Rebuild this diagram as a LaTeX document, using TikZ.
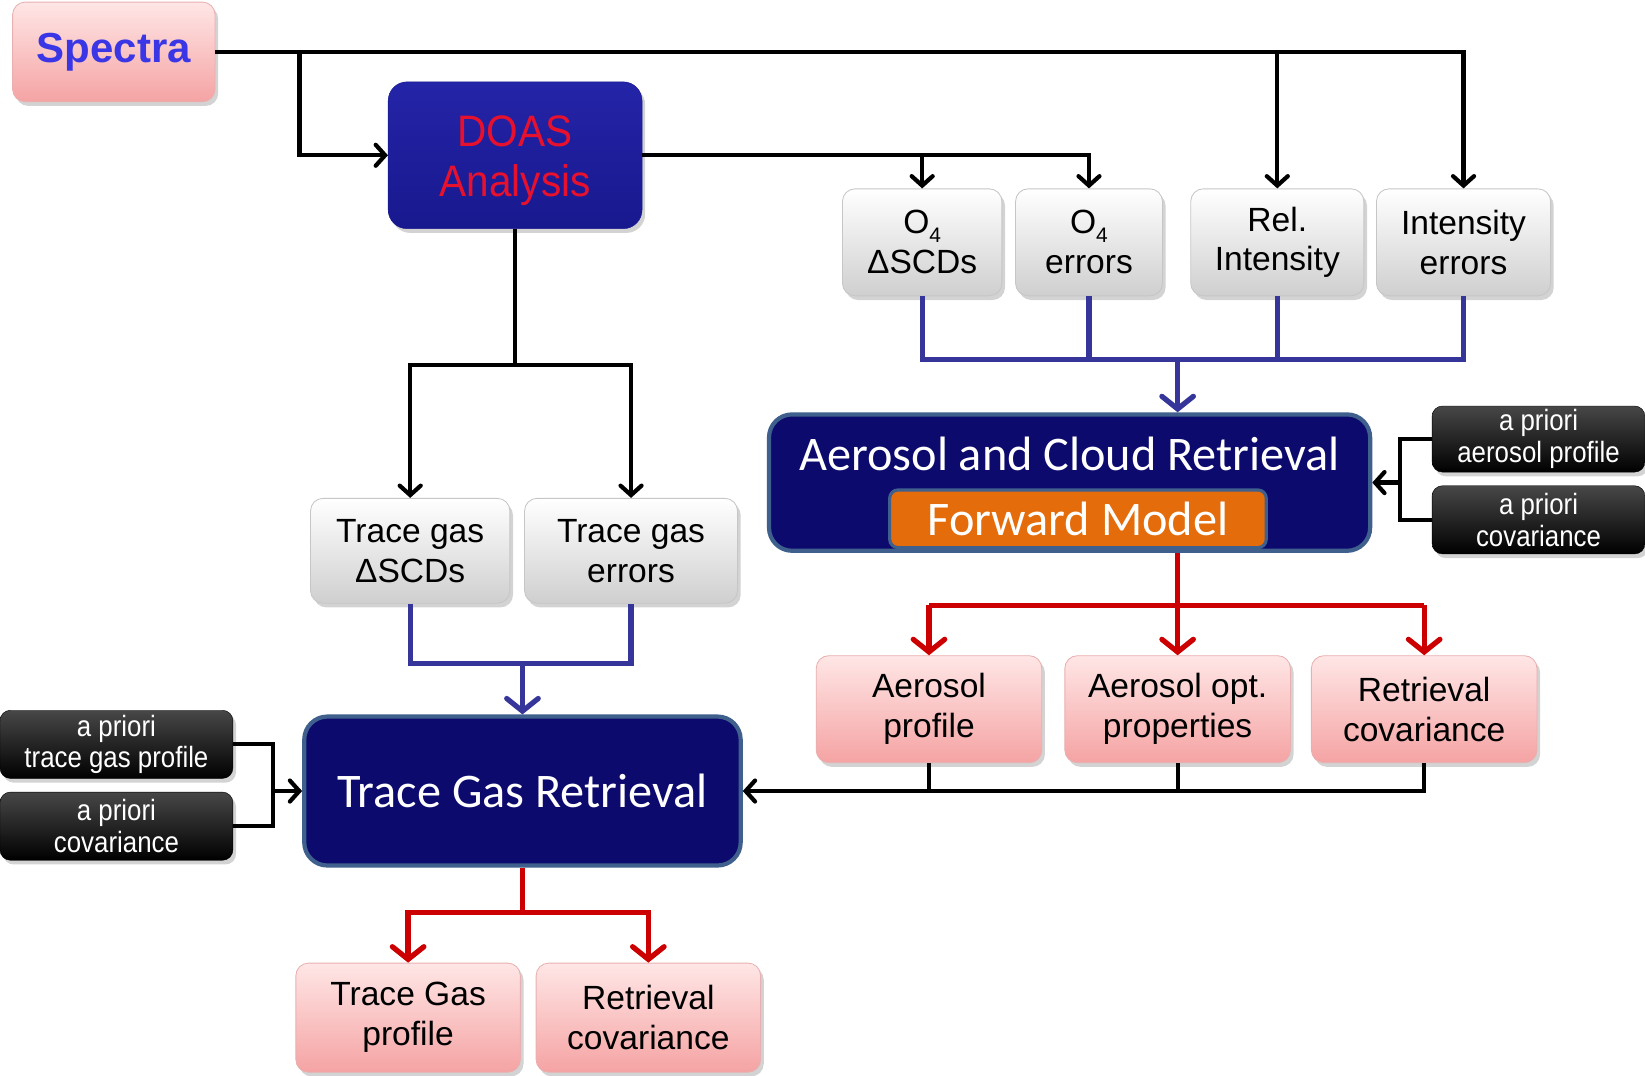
\documentclass[tikz,border=0pt]{standalone}
\usepackage{fontspec}
\setmainfont{Liberation Sans}
\newfontfamily\calfont{Carlito}
\newfontfamily\narrowfont[FakeStretch=0.88]{Liberation Sans}
\newfontfamily\condfont[FakeStretch=0.92]{Liberation Sans}
\usetikzlibrary{arrows.meta,shadows,calc}
\definecolor{navy}{HTML}{0D0A6E}
\definecolor{steel}{HTML}{3F5F8C}
\definecolor{doastop}{HTML}{2424A8}
\definecolor{doasbot}{HTML}{18188E}
\definecolor{doastext}{HTML}{E8112D}
\definecolor{spectext}{HTML}{3A36E6}
\definecolor{pinktop}{HTML}{FFE6E6}
\definecolor{pinkbot}{HTML}{F5A3A3}
\definecolor{pinkedge}{HTML}{E8B0B0}
\definecolor{graybot}{HTML}{CFCFCF}
\definecolor{bluecon}{HTML}{36369A}
\definecolor{redcon}{HTML}{CC0000}
\definecolor{fmorange}{HTML}{E46C0A}
\newcommand{\subfour}{\raisebox{-0.25em}{\fontsize{20}{20}\selectfont 4}}
\tikzset{
  sz/.style 2 args={minimum width=#1pt, minimum height=#2pt},
  shad/.style={drop shadow={opacity=0.35, shadow xshift=3pt, shadow yshift=-4pt}},
  basebox/.style={rounded corners=12pt, inner sep=0pt, align=center, shad},
  graybox/.style={basebox, draw=gray!45, line width=0.8pt, top color=white, bottom color=graybot,
    font=\fontsize{32}{38}\selectfont},
  pinkbox/.style={basebox, draw=pinkedge, line width=0.8pt, top color=pinktop, bottom color=pinkbot,
    font=\fontsize{32}{38}\selectfont},
  blackbox/.style={basebox, rounded corners=10pt, top color=black!72, bottom color=black, draw=black,
    text=white, font=\narrowfont\fontsize{28}{30}\selectfont},
  navybox/.style={rounded corners=22pt, fill=navy, draw=steel, line width=4pt, inner sep=0pt,
    text=white, align=center, font=\calfont\fontsize{46}{52}\selectfont},
  blk/.style={draw=black, line width=4pt},
  blkarr/.style={blk, -{Straight Barb[length=9pt,width=20pt,line cap=round]}},
  blu/.style={draw=bluecon, line width=5pt},
  bluarr/.style={blu, -{Straight Barb[length=12pt,width=30pt,line cap=round]}},
  rd/.style={draw=redcon, line width=5pt},
  rdarr/.style={rd, -{Straight Barb[length=12pt,width=30pt,line cap=round]}},
}
\begin{document}
\begin{tikzpicture}[x=1pt,y=-1pt]
\useasboundingbox (0,0) rectangle (1568,1025);
% top row
\node[basebox, sz={193}{95}, draw=pinkedge, line width=0.8pt, top color=pinktop, bottom color=pinkbot,
  font=\bfseries\fontsize{40}{44}\selectfont, text=spectext] (spectra) at (108.5,49.5) {\raisebox{-3pt}{Spectra}};
\node[basebox, sz={242}{140}, rounded corners=18pt, top color=doastop, bottom color=doasbot, draw=doasbot] (doas) at (491,148) {};
\node[inner sep=0pt, align=center, text=doastext, font=\condfont\fontsize{42}{48}\selectfont] (doaslabel) at (491,153) {DOAS\\Analysis};
% O4 etc
\node[graybox, sz={152}{102}] (o4s) at (879,231) {O\subfour\\ΔSCDs};
\node[graybox, sz={140}{102}] (o4e) at (1038,231) {O\subfour\\errors};
\node[graybox, sz={165}{102}] (rel) at (1217.5,231) {Rel.\\Intensity};
\node[graybox, sz={166}{102}] (ie) at (1395,231) {Intensity\\errors};
% aerosol retrieval
\node[navybox, sz={573}{130}] (acr) at (1019.5,460) {};
\node[text=white, font=\calfont\fontsize{46}{52}\selectfont, inner sep=0pt] (acrlabel) at (1019.5,433) {Aerosol and Cloud Retrieval};
\node[rounded corners=8pt, fill=fmorange, draw=steel, line width=3pt, sz={359}{55}, inner sep=0pt,
  text=white, font=\calfont\fontsize{46}{52}\selectfont] (fm) at (1027.5,494.5) {Forward Model};
\node[blackbox, sz={203}{63}] (apa) at (1466.5,418.5) {a priori\\aerosol profile};
\node[blackbox, sz={203}{65}] (apc) at (1466.5,495.5) {a priori\\covariance};
% aerosol outputs
\node[pinkbox, sz={215}{102}] (ap) at (885.5,676) {Aerosol\\profile};
\node[pinkbox, sz={215}{102}] (aop) at (1122.5,676) {Aerosol opt.\\properties};
\node[pinkbox, sz={215}{102}] (rc1) at (1357.5,676) {Retrieval\\covariance};
% trace gas
\node[graybox, sz={190}{100}] (tgs) at (391,525) {Trace gas\\ΔSCDs};
\node[graybox, sz={203}{100}] (tge) at (601.5,525) {Trace gas\\errors};
\node[navybox, sz={416}{142}] (tgr) at (498,754) {Trace Gas Retrieval};
\node[blackbox, sz={222}{65}] (att) at (111,709.5) {a priori\\trace gas profile};
\node[blackbox, sz={222}{65}] (atc) at (111,787.5) {a priori\\covariance};
\node[pinkbox, sz={214}{104}] (tgp) at (389,970) {Trace Gas\\profile};
\node[pinkbox, sz={214}{104}] (rc2) at (618,970) {Retrieval\\covariance};

% ---- connectors
% from Spectra
\draw[blkarr] (spectra.east) -| (ie.north);
\draw[blkarr] (rel.north |- spectra.east) -- (rel.north);
\path (spectra.east) ++(80,0) coordinate (s1);
\draw[blkarr] (s1) |- (doas.west);
% from DOAS
\draw[blkarr] (doas.east) -| (o4e.north);
\draw[blkarr] (o4s.north |- doas.east) -- (o4s.north);
\path (doas.south) ++(0,130) coordinate (db);
\draw[blk] (doas.south) -- (db);
\draw[blkarr] (db) -| (tgs.north);
\draw[blkarr] (db) -| (tge.north);
% blue bus to aerosol retrieval
\path (o4s.south) ++(0,60) coordinate (bus1);
\draw[blu] (o4s.south) -- (bus1) -| (ie.south);
\draw[blu] (o4e.south) -- (o4e.south |- bus1);
\draw[blu] (rel.south) -- (rel.south |- bus1);
\draw[bluarr] (aop.north |- bus1) -- (aop.north |- acr.north);
% a priori to aerosol retrieval
\path (apa.west) ++(-30,0) coordinate (aj);
\draw[blk] (apa.west) -- (aj) |- (apc.west);
\draw[blkarr] (aj |- acr.east) -- (acr.east);
% red outputs of aerosol retrieval
\path (aop.north |- acr.south) ++(0,50) coordinate (rb1);
\draw[rd] (aop.north |- acr.south) -- (rb1);
\draw[rd] (ap.north |- rb1) -- (rc1.north |- rb1);
\draw[rdarr] (ap.north |- rb1) -- (ap.north);
\draw[rdarr] (rb1) -- (aop.north);
\draw[rdarr] (rc1.north |- rb1) -- (rc1.north);
% aerosol outputs to trace gas retrieval
\draw[blkarr] (rc1.south) |- (tgr.east);
\draw[blk] (ap.south) -- (ap.south |- tgr.east);
\draw[blk] (aop.south) -- (aop.south |- tgr.east);
% blue bus to trace gas retrieval
\path (tgs.south) ++(0,57) coordinate (bus2);
\draw[blu] (tgs.south) -- (bus2) -| (tge.south);
\draw[bluarr] (tgr.north |- bus2) -- (tgr.north);
% a priori to trace gas retrieval
\path (att.east) ++(38,0) coordinate (tj);
\draw[blk] (att.east) -- (tj) |- (atc.east);
\draw[blkarr] (tj |- tgr.west) -- (tgr.west);
% red outputs of trace gas retrieval
\path (tgr.south) ++(0,43) coordinate (rb2);
\draw[rd] (tgr.south) -- (rb2);
\draw[rdarr] (rb2) -| (tgp.north);
\draw[rdarr] (rb2) -| (rc2.north);
\end{tikzpicture}
\end{document}
